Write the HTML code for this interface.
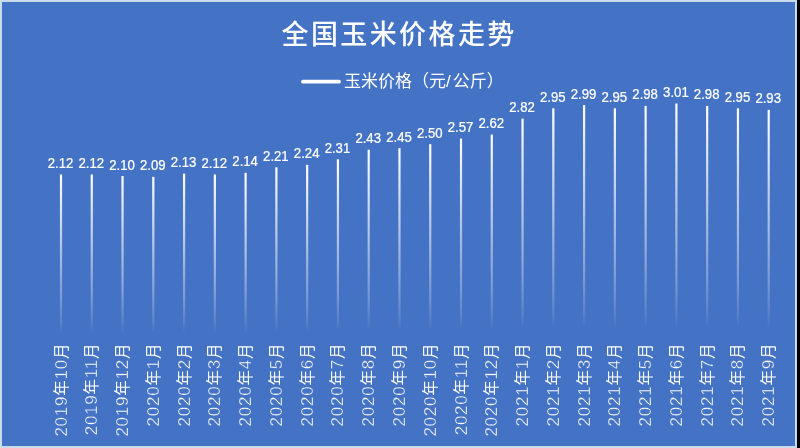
<!DOCTYPE html>
<html><head><meta charset="utf-8"><style>
html,body{margin:0;padding:0;width:800px;height:448px;overflow:hidden;background:#000;}
svg{display:block}
.t{font-family:"Liberation Sans","Noto Sans CJK SC",sans-serif;fill:#fff}
.xl{font-size:17px;font-weight:300;letter-spacing:0.75px;stroke:#4472c4;stroke-width:0.4px}
.c{font-size:15.5px;font-weight:400;stroke:none}
.dl{font-size:14px;stroke:#fff;stroke-width:0.25px}
</style></head><body>
<svg width="800" height="448" viewBox="0 0 800 448">
<defs>
<linearGradient id="g" x1="0" y1="0" x2="0" y2="1">
<stop offset="0" stop-color="#fff" stop-opacity="1"/>
<stop offset="0.72" stop-color="#fff" stop-opacity="0.3"/>
<stop offset="0.87" stop-color="#fff" stop-opacity="0.12"/>
<stop offset="0.935" stop-color="#fff" stop-opacity="0"/>
</linearGradient>
</defs>
<rect x="0" y="0" width="797" height="448" fill="#c8dcea"/>
<rect x="795" y="0" width="2" height="448" fill="#c8daf2"/>
<rect x="797" y="0" width="3" height="448" fill="#000"/>
<rect x="2" y="2" width="793" height="444" fill="#4472c4"/>
<text class="t" x="281.5" y="44.3" style="font-family:'Liberation Sans','Noto Sans CJK SC',sans-serif;font-weight:500;font-size:27px;letter-spacing:2.4px">全国玉米价格走势</text>
<line x1="303" y1="81.7" x2="339" y2="81.7" stroke="#fff" stroke-width="3.8" stroke-linecap="round"/>
<text class="t" x="344" y="87" style="font-family:'Liberation Sans','Noto Sans CJK SC',sans-serif;font-size:17px">玉米价格（元/<tspan dx="2">公斤）</tspan></text>

<rect x="59.90" y="174.44" width="2.2" height="168.96" fill="url(#g)"/>
<text class="t dl" transform="translate(60.50,168.04) scale(0.94,1)" text-anchor="middle">2.12</text>
<text class="t xl" transform="translate(66.50,342.8) rotate(-90)" text-anchor="end">2019<tspan class="c">年</tspan>10<tspan class="c">月</tspan></text>
<rect x="90.67" y="174.44" width="2.2" height="168.96" fill="url(#g)"/>
<text class="t dl" transform="translate(91.27,168.04) scale(0.94,1)" text-anchor="middle">2.12</text>
<text class="t xl" transform="translate(97.27,342.8) rotate(-90)" text-anchor="end">2019<tspan class="c">年</tspan>11<tspan class="c">月</tspan></text>
<rect x="121.44" y="176.03" width="2.2" height="167.37" fill="url(#g)"/>
<text class="t dl" transform="translate(122.04,169.63) scale(0.94,1)" text-anchor="middle">2.10</text>
<text class="t xl" transform="translate(128.04,342.8) rotate(-90)" text-anchor="end">2019<tspan class="c">年</tspan>12<tspan class="c">月</tspan></text>
<rect x="152.21" y="176.83" width="2.2" height="166.57" fill="url(#g)"/>
<text class="t dl" transform="translate(152.81,170.43) scale(0.94,1)" text-anchor="middle">2.09</text>
<text class="t xl" transform="translate(158.81,342.8) rotate(-90)" text-anchor="end">2020<tspan class="c">年</tspan>1<tspan class="c">月</tspan></text>
<rect x="182.98" y="173.64" width="2.2" height="169.76" fill="url(#g)"/>
<text class="t dl" transform="translate(183.58,167.24) scale(0.94,1)" text-anchor="middle">2.13</text>
<text class="t xl" transform="translate(189.58,342.8) rotate(-90)" text-anchor="end">2020<tspan class="c">年</tspan>2<tspan class="c">月</tspan></text>
<rect x="213.75" y="174.44" width="2.2" height="168.96" fill="url(#g)"/>
<text class="t dl" transform="translate(214.35,168.04) scale(0.94,1)" text-anchor="middle">2.12</text>
<text class="t xl" transform="translate(220.35,342.8) rotate(-90)" text-anchor="end">2020<tspan class="c">年</tspan>3<tspan class="c">月</tspan></text>
<rect x="244.52" y="172.84" width="2.2" height="170.56" fill="url(#g)"/>
<text class="t dl" transform="translate(245.12,166.44) scale(0.94,1)" text-anchor="middle">2.14</text>
<text class="t xl" transform="translate(251.12,342.8) rotate(-90)" text-anchor="end">2020<tspan class="c">年</tspan>4<tspan class="c">月</tspan></text>
<rect x="275.29" y="167.26" width="2.2" height="176.14" fill="url(#g)"/>
<text class="t dl" transform="translate(275.89,160.86) scale(0.94,1)" text-anchor="middle">2.21</text>
<text class="t xl" transform="translate(281.89,342.8) rotate(-90)" text-anchor="end">2020<tspan class="c">年</tspan>5<tspan class="c">月</tspan></text>
<rect x="306.06" y="164.87" width="2.2" height="178.53" fill="url(#g)"/>
<text class="t dl" transform="translate(306.66,158.47) scale(0.94,1)" text-anchor="middle">2.24</text>
<text class="t xl" transform="translate(312.66,342.8) rotate(-90)" text-anchor="end">2020<tspan class="c">年</tspan>6<tspan class="c">月</tspan></text>
<rect x="336.83" y="159.29" width="2.2" height="184.11" fill="url(#g)"/>
<text class="t dl" transform="translate(337.43,152.89) scale(0.94,1)" text-anchor="middle">2.31</text>
<text class="t xl" transform="translate(343.43,342.8) rotate(-90)" text-anchor="end">2020<tspan class="c">年</tspan>7<tspan class="c">月</tspan></text>
<rect x="367.60" y="149.73" width="2.2" height="193.67" fill="url(#g)"/>
<text class="t dl" transform="translate(368.20,143.33) scale(0.94,1)" text-anchor="middle">2.43</text>
<text class="t xl" transform="translate(374.20,342.8) rotate(-90)" text-anchor="end">2020<tspan class="c">年</tspan>8<tspan class="c">月</tspan></text>
<rect x="398.37" y="148.13" width="2.2" height="195.27" fill="url(#g)"/>
<text class="t dl" transform="translate(398.97,141.73) scale(0.94,1)" text-anchor="middle">2.45</text>
<text class="t xl" transform="translate(404.97,342.8) rotate(-90)" text-anchor="end">2020<tspan class="c">年</tspan>9<tspan class="c">月</tspan></text>
<rect x="429.14" y="144.15" width="2.2" height="199.25" fill="url(#g)"/>
<text class="t dl" transform="translate(429.74,137.75) scale(0.94,1)" text-anchor="middle">2.50</text>
<text class="t xl" transform="translate(435.74,342.8) rotate(-90)" text-anchor="end">2020<tspan class="c">年</tspan>10<tspan class="c">月</tspan></text>
<rect x="459.91" y="138.57" width="2.2" height="204.83" fill="url(#g)"/>
<text class="t dl" transform="translate(460.51,132.17) scale(0.94,1)" text-anchor="middle">2.57</text>
<text class="t xl" transform="translate(466.51,342.8) rotate(-90)" text-anchor="end">2020<tspan class="c">年</tspan>11<tspan class="c">月</tspan></text>
<rect x="490.68" y="134.59" width="2.2" height="208.81" fill="url(#g)"/>
<text class="t dl" transform="translate(491.28,128.19) scale(0.94,1)" text-anchor="middle">2.62</text>
<text class="t xl" transform="translate(497.28,342.8) rotate(-90)" text-anchor="end">2020<tspan class="c">年</tspan>12<tspan class="c">月</tspan></text>
<rect x="521.45" y="118.65" width="2.2" height="224.75" fill="url(#g)"/>
<text class="t dl" transform="translate(522.05,112.25) scale(0.94,1)" text-anchor="middle">2.82</text>
<text class="t xl" transform="translate(528.05,342.8) rotate(-90)" text-anchor="end">2021<tspan class="c">年</tspan>1<tspan class="c">月</tspan></text>
<rect x="552.22" y="108.28" width="2.2" height="235.12" fill="url(#g)"/>
<text class="t dl" transform="translate(552.82,101.88) scale(0.94,1)" text-anchor="middle">2.95</text>
<text class="t xl" transform="translate(558.82,342.8) rotate(-90)" text-anchor="end">2021<tspan class="c">年</tspan>2<tspan class="c">月</tspan></text>
<rect x="582.99" y="105.10" width="2.2" height="238.30" fill="url(#g)"/>
<text class="t dl" transform="translate(583.59,98.70) scale(0.94,1)" text-anchor="middle">2.99</text>
<text class="t xl" transform="translate(589.59,342.8) rotate(-90)" text-anchor="end">2021<tspan class="c">年</tspan>3<tspan class="c">月</tspan></text>
<rect x="613.76" y="108.28" width="2.2" height="235.12" fill="url(#g)"/>
<text class="t dl" transform="translate(614.36,101.88) scale(0.94,1)" text-anchor="middle">2.95</text>
<text class="t xl" transform="translate(620.36,342.8) rotate(-90)" text-anchor="end">2021<tspan class="c">年</tspan>4<tspan class="c">月</tspan></text>
<rect x="644.53" y="105.89" width="2.2" height="237.51" fill="url(#g)"/>
<text class="t dl" transform="translate(645.13,99.49) scale(0.94,1)" text-anchor="middle">2.98</text>
<text class="t xl" transform="translate(651.13,342.8) rotate(-90)" text-anchor="end">2021<tspan class="c">年</tspan>5<tspan class="c">月</tspan></text>
<rect x="675.30" y="103.50" width="2.2" height="239.90" fill="url(#g)"/>
<text class="t dl" transform="translate(675.90,97.10) scale(0.94,1)" text-anchor="middle">3.01</text>
<text class="t xl" transform="translate(681.90,342.8) rotate(-90)" text-anchor="end">2021<tspan class="c">年</tspan>6<tspan class="c">月</tspan></text>
<rect x="706.07" y="105.89" width="2.2" height="237.51" fill="url(#g)"/>
<text class="t dl" transform="translate(706.67,99.49) scale(0.94,1)" text-anchor="middle">2.98</text>
<text class="t xl" transform="translate(712.67,342.8) rotate(-90)" text-anchor="end">2021<tspan class="c">年</tspan>7<tspan class="c">月</tspan></text>
<rect x="736.84" y="108.28" width="2.2" height="235.12" fill="url(#g)"/>
<text class="t dl" transform="translate(737.44,101.88) scale(0.94,1)" text-anchor="middle">2.95</text>
<text class="t xl" transform="translate(743.44,342.8) rotate(-90)" text-anchor="end">2021<tspan class="c">年</tspan>8<tspan class="c">月</tspan></text>
<rect x="767.61" y="109.88" width="2.2" height="233.52" fill="url(#g)"/>
<text class="t dl" transform="translate(768.21,103.48) scale(0.94,1)" text-anchor="middle">2.93</text>
<text class="t xl" transform="translate(774.21,342.8) rotate(-90)" text-anchor="end">2021<tspan class="c">年</tspan>9<tspan class="c">月</tspan></text>
</svg></body></html>
